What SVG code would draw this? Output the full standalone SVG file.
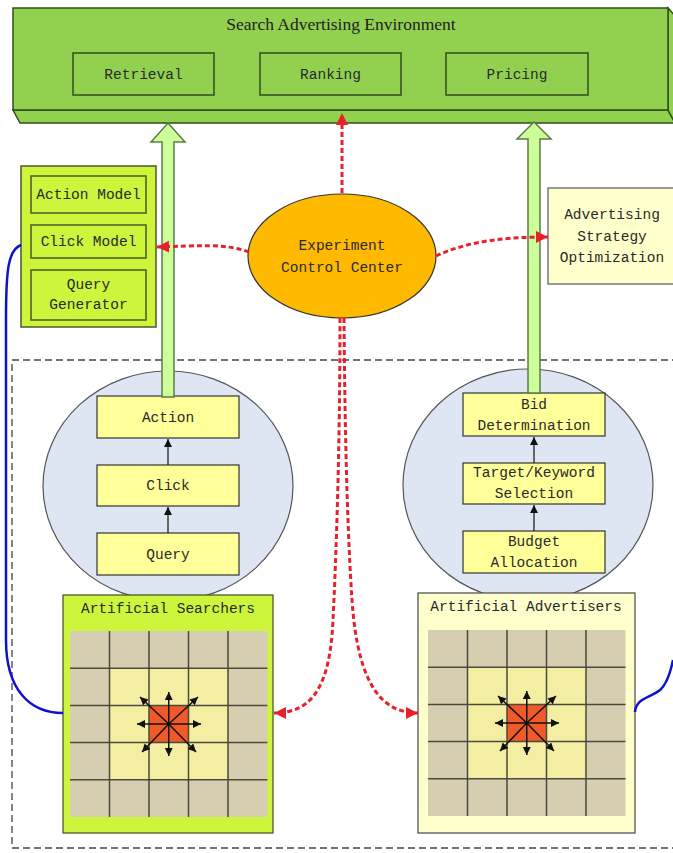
<svg xmlns="http://www.w3.org/2000/svg" width="673" height="853" viewBox="0 0 673 853">
<style>
.mono{font-family:"Liberation Mono","DejaVu Sans Mono",monospace;font-size:14.5px;fill:#2a2a2a;text-anchor:middle}
.serif{font-family:"Liberation Serif","Times New Roman",serif;font-size:17.5px;fill:#222;text-anchor:middle}
.envbox{fill:#92d050;stroke:#2f4f1a;stroke-width:1.5}
.inbox{fill:none;stroke:#2f4f1a;stroke-width:1.5}
.modbox{fill:#ccf53c;stroke:#4a5a2a;stroke-width:1.5}
.step{fill:#ffff99;stroke:#333;stroke-width:1.2}
.bigarrow{fill:#ccff99;stroke:#5e7a4a;stroke-width:1.5}
.red{fill:none;stroke:#e8202a;stroke-width:3;stroke-dasharray:5 3}
.blue{fill:none;stroke:#1010d0;stroke-width:2.5}
.blk{stroke:#111;stroke-width:1.2;fill:none}
</style>
<defs>
<marker id="ra" markerUnits="userSpaceOnUse" markerWidth="14" markerHeight="14" refX="12" refY="6" orient="auto">
<path d="M0,0 L12,6 L0,12 z" fill="#e8202a"/>
</marker>
<marker id="ka" markerUnits="userSpaceOnUse" markerWidth="10" markerHeight="10" refX="8" refY="4" orient="auto">
<path d="M0,0 L8,4 L0,8 z" fill="#111"/>
</marker>
<g id="grid">
<rect x="0" y="0" width="197.5" height="186" fill="#d6ceb0"/>
<rect x="39.5" y="37.2" width="118.5" height="111.6" fill="#f4eea2"/>
<rect x="79" y="74.4" width="39.5" height="37.2" fill="#f05a28"/>
<g stroke="#4a4a3a" stroke-width="1.5">
<path d="M39.5,0V186M79,0V186M118.5,0V186M158,0V186M0,37.2H197.5M0,74.4H197.5M0,111.6H197.5M0,148.8H197.5"/>
</g>
<g stroke="#111" stroke-width="1.5" marker-end="url(#ka)">
<line x1="98.75" y1="93" x2="98.75" y2="61"/>
<line x1="98.75" y1="93" x2="98.75" y2="125"/>
<line x1="98.75" y1="93" x2="67" y2="93"/>
<line x1="98.75" y1="93" x2="131" y2="93"/>
<line x1="98.75" y1="93" x2="70" y2="66"/>
<line x1="98.75" y1="93" x2="128" y2="66"/>
<line x1="98.75" y1="93" x2="72" y2="121"/>
<line x1="98.75" y1="93" x2="126" y2="121"/>
</g>
</g>
</defs>

<rect width="673" height="853" fill="#ffffff"/>

<!-- dashed region -->
<rect x="12" y="360" width="700" height="488" fill="none" stroke="#444" stroke-width="1.3" stroke-dasharray="7 4"/>

<g id="environment">
<polygon class="envbox" points="13,110 668,110 675,123 20,123"/>
<polygon class="envbox" points="668,8 675,16 675,123 668,110"/>
<rect class="envbox" x="13" y="8" width="655" height="102"/>
<text class="serif" x="341" y="30">Search Advertising Environment</text>
<rect class="inbox" x="73" y="53" width="141" height="42"/>
<text class="mono" x="143.5" y="79">Retrieval</text>
<rect class="inbox" x="260" y="53" width="141" height="42"/>
<text class="mono" x="330.5" y="79">Ranking</text>
<rect class="inbox" x="446" y="53" width="142" height="42"/>
<text class="mono" x="517" y="79">Pricing</text>
</g>

<g id="models">
<rect class="modbox" x="21" y="166" width="135" height="161"/>
<rect class="modbox" x="31" y="176" width="115" height="37"/>
<text class="mono" x="88.5" y="199">Action Model</text>
<rect class="modbox" x="31" y="225" width="115" height="33"/>
<text class="mono" x="88.5" y="246">Click Model</text>
<rect class="modbox" x="31" y="270" width="115" height="50"/>
<text class="mono" x="88.5" y="289">Query</text>
<text class="mono" x="88.5" y="309">Generator</text>
</g>

<g id="control">
<ellipse cx="342" cy="256" rx="94" ry="62" fill="#ffba00" stroke="#333" stroke-width="1.2"/>
<text class="mono" x="342" y="250">Experiment</text>
<text class="mono" x="342" y="272">Control Center</text>
</g>

<g id="strategy">
<rect x="548" y="188" width="130" height="96" fill="#ffffcc" stroke="#666" stroke-width="1.3"/>
<text class="mono" x="612" y="219">Advertising</text>
<text class="mono" x="612" y="241">Strategy</text>
<text class="mono" x="612" y="262">Optimization</text>
</g>

<g id="searcher-process">
<ellipse cx="168" cy="486" rx="125" ry="115" fill="#dfe6f3" stroke="#555" stroke-width="1.2"/>
<rect class="step" x="97" y="396" width="142" height="42"/>
<text class="mono" x="168" y="422">Action</text>
<rect class="step" x="97" y="465" width="142" height="41"/>
<text class="mono" x="168" y="490">Click</text>
<rect class="step" x="97" y="533" width="142" height="42"/>
<text class="mono" x="168" y="559">Query</text>
</g>

<g id="advertiser-process">
<ellipse cx="528" cy="485" rx="125" ry="116" fill="#dfe6f3" stroke="#555" stroke-width="1.2"/>
<rect class="step" x="463" y="393" width="142" height="43"/>
<text class="mono" x="534" y="409">Bid</text>
<text class="mono" x="534" y="430">Determination</text>
<rect class="step" x="463" y="463" width="142" height="41"/>
<text class="mono" x="534" y="477">Target/Keyword</text>
<text class="mono" x="534" y="498">Selection</text>
<rect class="step" x="463" y="531" width="142" height="42"/>
<text class="mono" x="534" y="546">Budget</text>
<text class="mono" x="534" y="567">Allocation</text>
</g>

<g id="searchers">
<rect x="63" y="595" width="210" height="238" fill="#ccf53c" stroke="#4a5a2a" stroke-width="1.3"/>
<text class="mono" x="168" y="613">Artificial Searchers</text>
<use href="#grid" transform="translate(70,631)"/>
</g>

<g id="advertisers">
<rect x="418" y="593" width="217" height="240" fill="#ffffcc" stroke="#555" stroke-width="1.3"/>
<text class="mono" x="526" y="611">Artificial Advertisers</text>
<use href="#grid" transform="translate(428,630)"/>
</g>

<g id="connectors">
<polygon class="bigarrow" points="168,123 185,142 174,142 174,397 162,397 162,142 151,142"/>
<polygon class="bigarrow" points="534,122 551,139 540,139 540,393 528,393 528,139 517,139"/>
<line class="blk" x1="168" y1="465" x2="168" y2="439" marker-end="url(#ka)"/>
<line class="blk" x1="168" y1="533" x2="168" y2="507" marker-end="url(#ka)"/>
<line class="blk" x1="534" y1="463" x2="534" y2="437" marker-end="url(#ka)"/>
<line class="blk" x1="534" y1="531" x2="534" y2="505" marker-end="url(#ka)"/>
<path class="red" d="M342,193 L342,113" marker-end="url(#ra)"/>
<path class="red" d="M249,252 C225,243 195,246 157,247" marker-end="url(#ra)"/>
<path class="red" d="M436,256 C470,240 510,237 548,237" marker-end="url(#ra)"/>
<path class="red" d="M340,318 C340,450 336,560 333,620 C330,690 310,713 274,713" marker-end="url(#ra)"/>
<path class="red" d="M344,318 C345,450 348,540 352,600 C358,690 385,713 418,713" marker-end="url(#ra)"/>
<path class="blue" d="M21,245 C8,250 6,270 6,320 L6,640 C6,690 30,713 63,713"/>
<path class="blue" d="M635,712 C636,698 650,698 660,690 C668,683 671,670 673,660"/>
</g>
</svg>
